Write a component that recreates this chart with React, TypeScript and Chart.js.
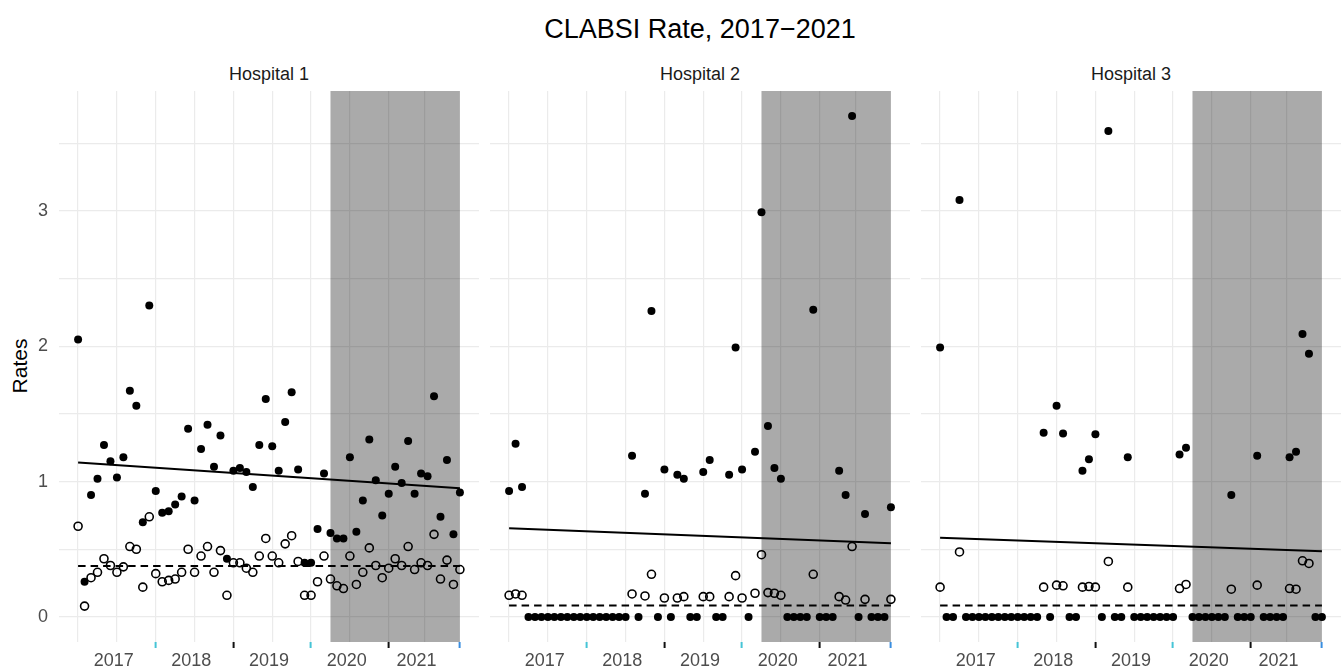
import React, { useEffect, useRef } from "react";
import { Chart, registerables } from "chart.js";

Chart.register(...registerables);

const FONT = '"Liberation Sans", Arial, Helvetica, sans-serif';

// ---------- categories / ticks ----------
const TITLE = "CLABSI Rate, 2017\u22122021";
const Y_TITLE = "Rates";
const HOSPITALS = ["Hospital 1", "Hospital 2", "Hospital 3"];
const YEAR_LABELS = ["2017", "2018", "2019", "2020", "2021"];
const YEAR_TICK_POS = [5.5, 17.5, 29.5, 41.5, 52.3]; // month index of year labels
const GRID_X = [0, 6, 12, 18, 24, 30, 36, 42, 48, 53.5, 59]; // month index of vertical grid lines
const GRID_Y = [0, 0.5, 1, 1.5, 2, 2.5, 3, 3.5];
const MARK_COLORS: Record<number, string> = {
  12: "#45c4d6",
  24: "#111111",
  36: "#45c4d6",
  48: "#111111",
  59: "#3a8ee0",
};
const SHADE_RANGE = [39, 59]; // month index of shaded period
const X_RANGE = [-2.95, 61.95];
const Y_RANGE = [-0.185, 3.885];
const FIRST_MONTH = 0;
const LAST_MONTH = 59;

// ---------- series values (monthly, Jan 2017 .. Dec 2021) ----------
const H1_RATE = [
  2.05, 0.26, 0.9, 1.02, 1.27, 1.15, 1.03, 1.18, 1.67, 1.56,
  0.7, 2.3, 0.93, 0.77, 0.78, 0.83, 0.89, 1.39, 0.86, 1.24,
  1.42, 1.11, 1.34, 0.43, 1.08, 1.1, 1.07, 0.96, 1.27, 1.61,
  1.26, 1.08, 1.44, 1.66, 1.09, 0.4, 0.4, 0.65, 1.06, 0.62,
  0.58, 0.58, 1.18, 0.63, 0.86, 1.31, 1.01, 0.75, 0.91, 1.11,
  0.99, 1.3, 0.91, 1.06, 1.04, 1.63, 0.74, 1.16, 0.61, 0.92,
];
const H1_REF = [
  0.67, 0.08, 0.29, 0.33, 0.43, 0.38, 0.33, 0.37, 0.52, 0.5,
  0.22, 0.74, 0.32, 0.26, 0.27, 0.28, 0.33, 0.5, 0.33, 0.45,
  0.52, 0.33, 0.49, 0.16, 0.4, 0.4, 0.36, 0.33, 0.45, 0.58,
  0.45, 0.4, 0.54, 0.6, 0.41, 0.16, 0.16, 0.26, 0.45, 0.28,
  0.23, 0.21, 0.45, 0.24, 0.33, 0.51, 0.38, 0.29, 0.36, 0.43,
  0.38, 0.52, 0.35, 0.4, 0.38, 0.61, 0.28, 0.42, 0.24, 0.35,
];
const H2_RATE = [
  0.93, 1.28, 0.96, 0, 0, 0, 0, 0, 0, 0,
  0, 0, 0, 0, 0, 0, 0, 0, 0, 1.19,
  0, 0.91, 2.26, 0, 1.09, 0, 1.05, 1.02, 0, 0,
  1.07, 1.16, 0, 0, 1.05, 1.99, 1.09, 0, 1.22, 2.99,
  1.41, 1.1, 1.02, 0, 0, 0, 0, 2.27, 0, 0,
  0, 1.08, 0.9, 3.7, 0, 0.76, 0, 0, 0, 0.81,
];
const H2_REF = [
  0.16, 0.17, 0.16, null, null, null, null, null, null, null,
  null, null, null, null, null, null, null, null, null, 0.17,
  null, 0.155, 0.315, null, 0.14, null, 0.14, 0.15, null, null,
  0.15, 0.15, null, null, 0.15, 0.305, 0.14, null, 0.175, 0.46,
  0.18, 0.175, 0.16, null, null, null, null, 0.315, null, null,
  null, 0.15, 0.125, 0.52, null, 0.13, null, null, null, 0.13,
];
const H3_RATE = [
  1.99, 0, 0, 3.08, 0, 0, 0, 0, 0, 0,
  0, 0, 0, 0, 0, 0, 1.36, 0, 1.56, 1.355,
  0, 0, 1.08, 1.165, 1.35, 0, 3.59, 0, 0, 1.18,
  0, 0, 0, 0, 0, 0, 0, 1.2, 1.25, 0,
  0, 0, 0, 0, 0, 0.9, 0, 0, 0, 1.19,
  0, 0, 0, 0, 1.18, 1.22, 2.09, 1.945, 0, 0,
];
const H3_REF = [
  0.22, null, null, 0.48, null, null, null, null, null, null,
  null, null, null, null, null, null, 0.22, null, 0.235, 0.23,
  null, null, 0.22, 0.225, 0.22, null, 0.41, null, null, 0.22,
  null, null, null, null, null, null, null, 0.21, 0.24, null,
  null, null, null, null, null, 0.205, null, null, null, 0.235,
  null, null, null, null, 0.21, 0.205, 0.415, 0.395, null, null,
];
const TREND_START = [1.14, 0.655, 0.585];
const TREND_END = [0.95, 0.545, 0.485];
const BASELINE = [0.376, 0.085, 0.085];

const RATES = [H1_RATE, H2_RATE, H3_RATE];
const REFS = [H1_REF, H2_REF, H3_REF];

// ---------- layout ----------
const PANEL_LEFT = [59, 490, 921];
const PANEL_W = 420;
const PANEL_TOP = 91;
const CANVAS_H = 670 - PANEL_TOP;
const Y_AXIS_W = 59;

const toPoints = (arr: (number | null)[]) =>
  arr
    .map((v, i) => (v == null ? null : { x: i, y: v }))
    .filter((p) => p !== null) as { x: number; y: number }[];

const zeroPad = (s: any) => {
  s.paddingTop = 0;
  s.paddingBottom = 0;
  s.paddingLeft = 0;
  s.paddingRight = 0;
};

const shadePlugin = {
  id: "shade",
  beforeDatasetsDraw(chart: any) {
    const { ctx, chartArea, scales } = chart;
    const x = scales.x;
    const x0 = x.getPixelForValue(SHADE_RANGE[0]);
    const x1 = x.getPixelForValue(SHADE_RANGE[1]);
    ctx.save();
    ctx.fillStyle = "rgba(0,0,0,0.335)";
    ctx.fillRect(x0, chartArea.top, x1 - x0, chartArea.bottom - chartArea.top);
    ctx.restore();
  },
};

function makeConfig(p: number): any {
  const showY = p === 0;
  return {
    type: "scatter",
    data: {
      datasets: [
        {
          data: [
            { x: FIRST_MONTH, y: TREND_START[p] },
            { x: LAST_MONTH, y: TREND_END[p] },
          ],
          showLine: true,
          borderColor: "#000",
          borderWidth: 2,
          pointRadius: 0,
        },
        {
          data: [
            { x: FIRST_MONTH, y: BASELINE[p] },
            { x: LAST_MONTH, y: BASELINE[p] },
          ],
          showLine: true,
          borderColor: "#000",
          borderWidth: 2,
          borderDash: [7.5, 5],
          pointRadius: 0,
        },
        {
          data: toPoints(REFS[p]),
          pointRadius: 4,
          pointBackgroundColor: "rgba(0,0,0,0)",
          pointBorderColor: "#000",
          pointBorderWidth: 1.6,
        },
        {
          data: toPoints(RATES[p]),
          pointRadius: 4,
          pointBackgroundColor: "#000",
          pointBorderColor: "#000",
          pointBorderWidth: 0,
        },
      ],
    },
    options: {
      animation: false,
      responsive: false,
      maintainAspectRatio: false,
      events: [],
      layout: { padding: 0, autoPadding: false },
      plugins: {
        legend: { display: false },
        tooltip: { enabled: false },
        title: { display: false },
      },
      scales: {
        x: {
          type: "linear",
          position: "bottom",
          weight: 0,
          min: X_RANGE[0],
          max: X_RANGE[1],
          afterBuildTicks: (s: any) => {
            s.ticks = GRID_X.map((v) => ({ value: v }));
          },
          afterFit: (s: any) => {
            s.height = 6;
            zeroPad(s);
          },
          ticks: { display: false },
          grid: {
            color: (c: any) =>
              c.tick && c.tick.value === LAST_MONTH ? "rgba(0,0,0,0)" : "#ebebeb",
            lineWidth: 1.2,
            drawTicks: true,
            tickLength: 6,
            tickWidth: 2,
            tickColor: (c: any) =>
              (c.tick && MARK_COLORS[c.tick.value]) || "rgba(0,0,0,0)",
          },
          border: { display: false },
        },
        xl: {
          type: "linear",
          position: "bottom",
          weight: 1,
          min: X_RANGE[0],
          max: X_RANGE[1],
          afterBuildTicks: (s: any) => {
            s.ticks = YEAR_TICK_POS.map((v) => ({ value: v }));
          },
          afterFit: (s: any) => {
            s.height = 22;
            zeroPad(s);
          },
          grid: { display: false, drawTicks: false },
          border: { display: false },
          ticks: {
            callback: (_v: any, i: number) => YEAR_LABELS[i],
            color: "#4d4d4d",
            font: { family: FONT, size: 18 },
            padding: 2,
            maxRotation: 0,
            minRotation: 0,
            autoSkip: false,
          },
        },
        y: {
          type: "linear",
          min: Y_RANGE[0],
          max: Y_RANGE[1],
          afterBuildTicks: (s: any) => {
            s.ticks = GRID_Y.map((v) => ({ value: v }));
          },
          afterFit: (s: any) => {
            s.width = showY ? Y_AXIS_W : 0;
            zeroPad(s);
          },
          ticks: {
            display: showY,
            callback: (v: any) => (Number.isInteger(v) ? String(v) : ""),
            color: "#4d4d4d",
            font: { family: FONT, size: 18 },
            padding: 11,
            autoSkip: false,
          },
          grid: { color: "#ebebeb", lineWidth: 1.2, drawTicks: false },
          border: { display: false },
        },
      },
    },
    plugins: [shadePlugin],
  };
}

function Panel({ p }: { p: number }) {
  const ref = useRef<HTMLCanvasElement | null>(null);
  const left = p === 0 ? 0 : PANEL_LEFT[p];
  const width = p === 0 ? PANEL_LEFT[0] + PANEL_W : PANEL_W;
  useEffect(() => {
    if (!ref.current) return;
    const chart = new Chart(ref.current, makeConfig(p));
    return () => chart.destroy();
  }, [p]);
  return (
    <canvas
      ref={ref}
      width={width}
      height={CANVAS_H}
      style={{
        position: "absolute",
        left,
        top: PANEL_TOP,
        width,
        height: CANVAS_H,
      }}
    />
  );
}

export default function App() {
  return (
    <div
      style={{
        position: "fixed",
        left: 0,
        top: 0,
        width: 1344,
        height: 670,
        background: "#fff",
        fontFamily: FONT,
        overflow: "hidden",
      }}
    >
      <div
        style={{
          position: "absolute",
          left: PANEL_LEFT[0],
          width: PANEL_LEFT[2] + PANEL_W - PANEL_LEFT[0],
          top: 16,
          fontSize: 27,
          lineHeight: "26px",
          textAlign: "center",
          color: "#000",
          whiteSpace: "nowrap",
        }}
      >
        {TITLE}
      </div>
      {HOSPITALS.map((h, i) => (
        <div
          key={h}
          style={{
            position: "absolute",
            left: PANEL_LEFT[i],
            width: PANEL_W,
            top: 65,
            fontSize: 18,
            lineHeight: "18px",
            textAlign: "center",
            color: "#1a1a1a",
            whiteSpace: "nowrap",
          }}
        >
          {h}
        </div>
      ))}
      <div
        style={{
          position: "absolute",
          left: 19.5 - 50,
          top: 366 - 12,
          width: 100,
          height: 24,
          fontSize: 21,
          lineHeight: "24px",
          textAlign: "center",
          color: "#000",
          transform: "rotate(-90deg)",
          whiteSpace: "nowrap",
        }}
      >
        {Y_TITLE}
      </div>
      {HOSPITALS.map((h, i) => (
        <Panel key={h} p={i} />
      ))}
    </div>
  );
}
